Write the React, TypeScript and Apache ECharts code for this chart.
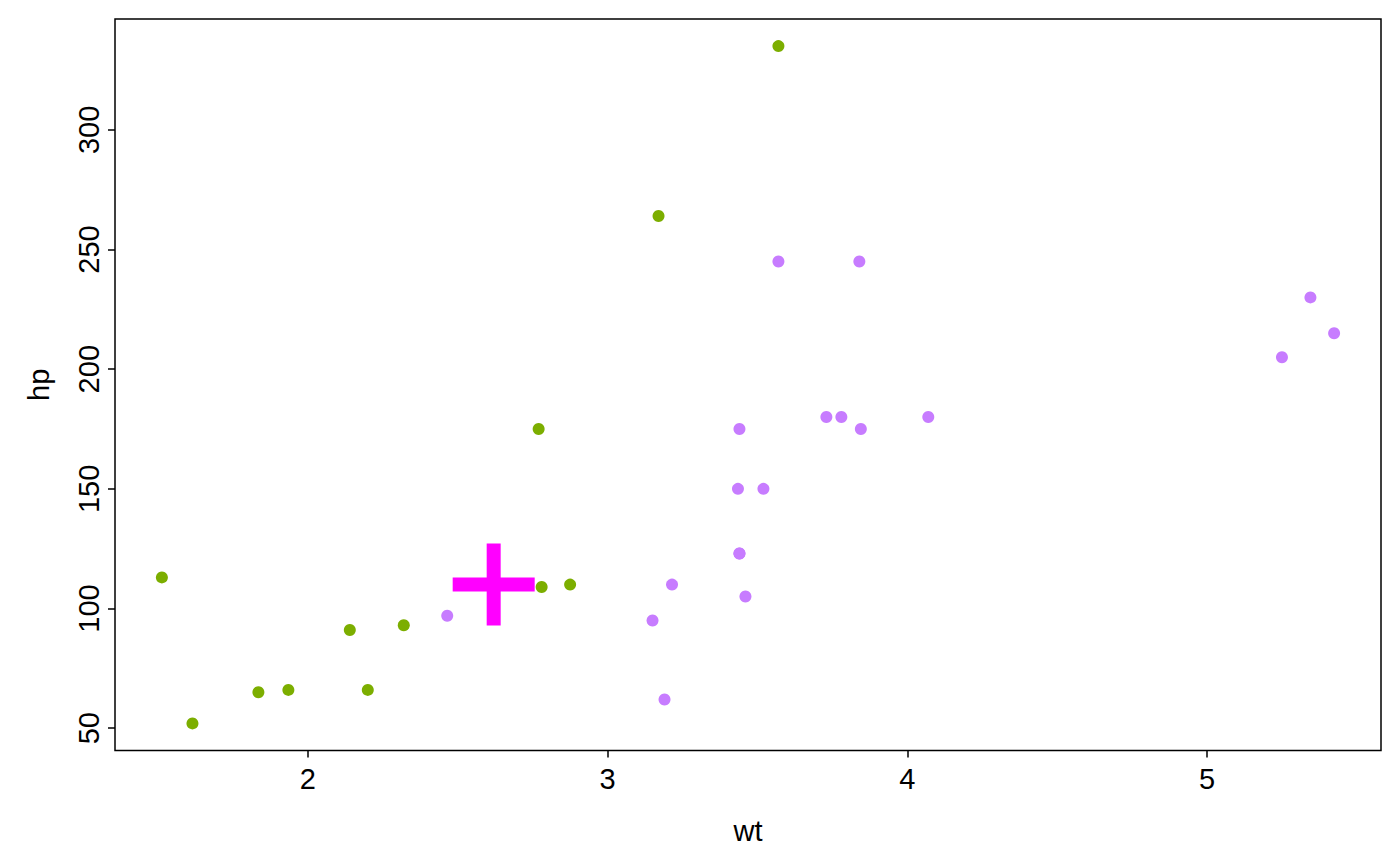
import React, { useEffect, useRef } from "react";
import * as echarts from "echarts";

const wtManual = [2.62, 2.875, 2.32, 2.2, 1.615, 1.835, 1.935, 2.14, 1.513, 3.17, 2.77, 3.57, 2.78];
const hpManual = [110, 110, 93, 66, 52, 65, 66, 91, 113, 264, 175, 335, 109];
const wtAuto = [3.215, 3.44, 3.46, 3.57, 3.19, 3.15, 3.44, 3.44, 4.07, 3.73, 3.78, 5.25, 5.424, 5.345, 2.465, 3.52, 3.435, 3.84, 3.845];
const hpAuto = [110, 175, 105, 245, 62, 95, 123, 123, 180, 180, 180, 205, 215, 230, 97, 150, 150, 245, 175];
const markerWt = [2.62];
const markerHp = [110];
const xTicks = [2, 3, 4, 5];
const yTicks = [50, 100, 150, 200, 250, 300];

const FONT = "'Liberation Sans', Arial, Helvetica, sans-serif";

export default function App() {
  const ref = useRef<HTMLDivElement>(null);
  useEffect(() => {
    const chart = echarts.init(ref.current!, null, { renderer: "svg" });
    const xMin = 1.513 - 0.04 * (5.424 - 1.513);
    const xMax = 5.424 + 0.04 * (5.424 - 1.513);
    const yMin = 52 - 0.04 * (335 - 52);
    const yMax = 335 + 0.04 * (335 - 52);
    const zip = (a: number[], b: number[]) => a.map((v, i) => [v, b[i]]);
    chart.setOption({
      animation: false,
      backgroundColor: "#ffffff",
      textStyle: { fontFamily: FONT },
      grid: {
        left: 115,
        top: 19,
        width: 1266,
        height: 731.5,
        show: true,
        borderColor: "#000",
        borderWidth: 1.5,
        backgroundColor: "transparent",
      },
      xAxis: {
        type: "value",
        min: xMin,
        max: xMax,
        name: "wt",
        nameLocation: "middle",
        nameGap: 66,
        nameTextStyle: { fontSize: 29, color: "#000", fontFamily: FONT },
        axisLine: { show: false },
        splitLine: { show: false },
        axisTick: { show: true, length: 7, lineStyle: { color: "#000", width: 1.5 }, customValues: xTicks },
        axisLabel: { fontSize: 29, color: "#000", margin: 14, fontFamily: FONT, customValues: xTicks },
      },
      yAxis: {
        type: "value",
        min: yMin,
        max: yMax,
        name: "hp",
        nameLocation: "middle",
        nameGap: 62,
        nameTextStyle: { fontSize: 29, color: "#000", fontFamily: FONT },
        axisLine: { show: false },
        splitLine: { show: false },
        axisTick: { show: true, length: 7, lineStyle: { color: "#000", width: 1.5 }, customValues: yTicks },
        axisLabel: { fontSize: 29, color: "#000", margin: 12, rotate: 90, fontFamily: FONT, customValues: yTicks },
      },
      series: [
        {
          type: "scatter",
          data: zip(wtManual, hpManual),
          symbolSize: 12,
          itemStyle: { color: "#7CAE00", opacity: 1 },
        },
        {
          type: "scatter",
          data: zip(wtAuto, hpAuto),
          symbolSize: 12,
          itemStyle: { color: "#C77CFF", opacity: 1 },
        },
        {
          type: "scatter",
          data: zip(markerWt, markerHp),
          symbol: "path://M34,0H48V34H82V48H48V82H34V48H0V34H34Z",
          symbolSize: [82, 82],
          symbolKeepAspect: true,
          itemStyle: { color: "#FF00FF", opacity: 1 },
          z: 5,
        },
      ],
    });
    return () => chart.dispose();
  }, []);
  return <div ref={ref} style={{ width: 1400, height: 866, position: "absolute", left: 0, top: 0 }} />;
}
